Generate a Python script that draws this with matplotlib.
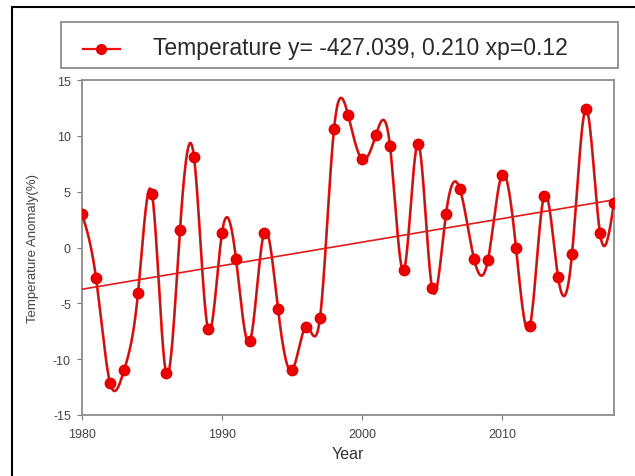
import matplotlib
matplotlib.use("Agg")
import matplotlib.pyplot as plt
from matplotlib.patches import Rectangle
from matplotlib.lines import Line2D
import numpy as np

plt.rcParams['font.family'] = ['Liberation Sans', 'DejaVu Sans']
plt.rcParams['axes.unicode_minus'] = False

years = np.arange(1980, 2019)
anomaly = [3.0, -2.7, -12.1, -11.0, -4.1, 4.8, -11.2, 1.6, 8.1, -7.3,
           1.3, -1.0, -8.4, 1.3, -5.5, -11.0, -7.1, -6.3, 10.6, 11.9,
           7.9, 10.1, 9.1, -2.0, 9.3, -3.6, 3.0, 5.2, -1.0, -1.1,
           6.5, 0.0, -7.0, 4.6, -2.6, -0.6, 12.4, 1.3, 4.0]
legend_text = "Temperature y= -427.039, 0.210 xp=0.12"

W, H = 635, 477


def natural_spline(x, y, xs):
    # plain natural cubic spline, no scipy in the sandbox
    x = np.asarray(x, float)
    y = np.asarray(y, float)
    n = len(x)
    h = np.diff(x)
    A = np.zeros((n, n))
    b = np.zeros(n)
    A[0, 0] = A[-1, -1] = 1.0
    for i in range(1, n - 1):
        A[i, i - 1] = h[i - 1]
        A[i, i] = 2 * (h[i - 1] + h[i])
        A[i, i + 1] = h[i]
        b[i] = 3 * ((y[i + 1] - y[i]) / h[i] - (y[i] - y[i - 1]) / h[i - 1])
    c = np.linalg.solve(A, b)
    idx = np.clip(np.searchsorted(x, xs) - 1, 0, n - 2)
    dx = xs - x[idx]
    hi = h[idx]
    bb = (y[idx + 1] - y[idx]) / hi - hi * (2 * c[idx] + c[idx + 1]) / 3
    d = (c[idx + 1] - c[idx]) / (3 * hi)
    return y[idx] + bb * dx + c[idx] * dx ** 2 + d * dx ** 3


def fx(px):
    return px / W


def fy(py):
    return 1 - py / H


fig = plt.figure(figsize=(W / 100, H / 100), dpi=100)
ax = fig.add_axes([fx(82), fy(416), 532 / W, 335 / H])

xs = np.linspace(years[0], years[-1], 1500)
ys = natural_spline(years, anomaly, xs)
ax.plot(xs, ys, color='#ee1111', lw=1.9, zorder=2)
ax.plot(xs, ys, color='#8a2020', lw=0.5, zorder=3)
ax.plot(years, anomaly, 'o', color='#ee0000', ms=7.5, mec='#dd0000', zorder=4)

slope, icpt = np.polyfit(years, anomaly, 1)
ax.plot(years, slope * years + icpt, color='#e41a1a', lw=1.2, zorder=3)

ax.set_xlim(1980, 2018)
ax.set_ylim(-15, 15)
ax.set_xticks([1980, 1990, 2000, 2010])
ax.set_yticks(np.arange(-15, 16, 5))
for s in ax.spines.values():
    s.set_color('#8c8c8c')
    s.set_linewidth(1.3)
ax.tick_params(direction='out', length=3.5, width=0.8, color='#777777',
               labelsize=9, labelcolor='#444444')
ax.tick_params(axis='y', pad=4.5)
ax.tick_params(axis='x', pad=6)
ax.set_xlabel('Year', fontsize=11.5, color='#333333', labelpad=4)
ax.set_ylabel('Temperature Anomaly(%)', fontsize=9.5, color='#444444',
              labelpad=10)

# legend box drawn by hand so it spans the width like the original
fig.add_artist(Rectangle((fx(61), fy(69)), 557 / W, 46 / H,
                         transform=fig.transFigure, fill=False,
                         edgecolor='#8c8c8c', lw=1.3))
fig.add_artist(Line2D([fx(83), fx(120)], [fy(50), fy(50)],
                      transform=fig.transFigure, color='#ee1111', lw=1.6))
fig.add_artist(Line2D([fx(101)], [fy(50)], transform=fig.transFigure,
                      marker='o', ms=7, color='#ee0000', mec='#dd0000'))
fig.text(fx(153), fy(49), legend_text, fontsize=16.5, color='#2a2a2a',
         va='center', ha='left')

# outer black frame, cut off at right and bottom
fig.add_artist(Rectangle((fx(12), -0.1), 1.0, fy(8) + 0.1,
                         transform=fig.transFigure, fill=False,
                         edgecolor='black', lw=1.5))

fig.savefig('out.png', dpi=100)
